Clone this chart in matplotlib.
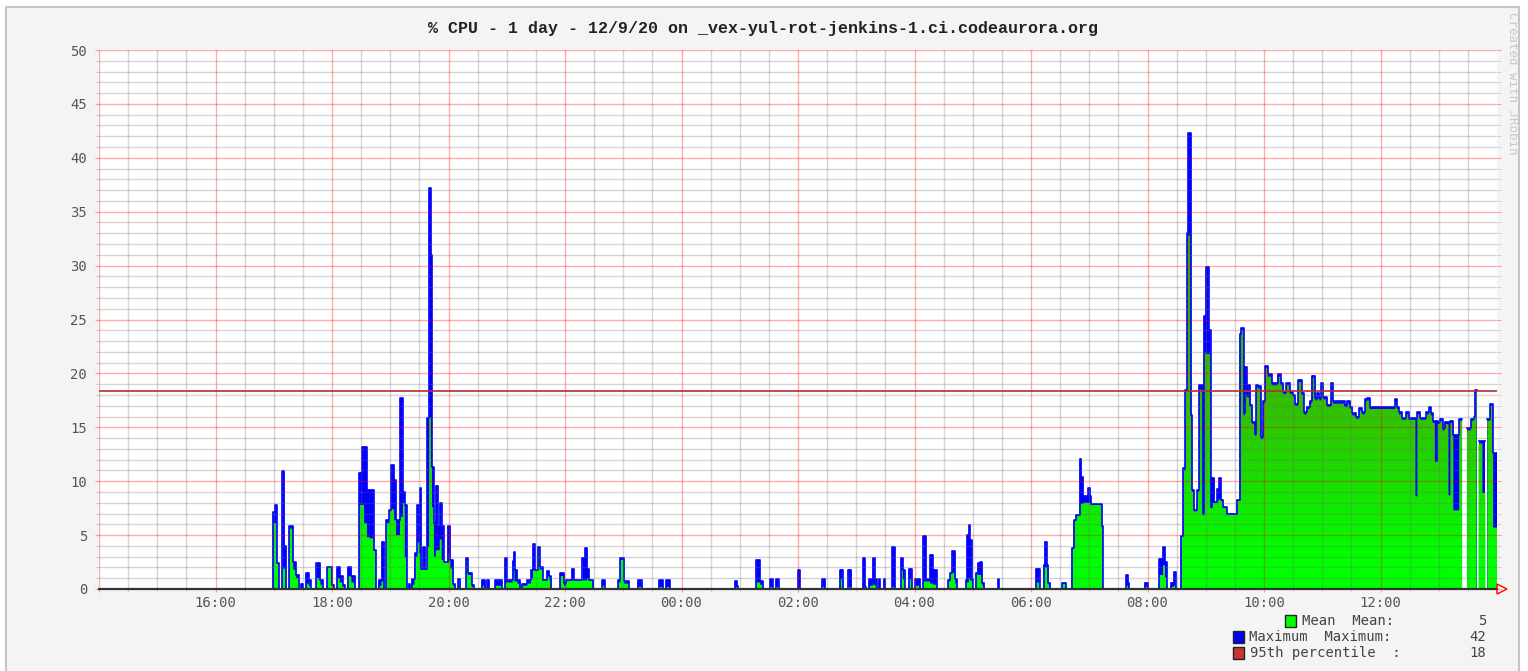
import numpy as np
import matplotlib
matplotlib.use("Agg")
import matplotlib.pyplot as plt
from matplotlib.colors import LinearSegmentedColormap
from matplotlib.patches import Rectangle, Polygon
from matplotlib.path import Path

plt.rcParams['font.family'] = ['DejaVu Sans Mono']

nan = float('nan')

# each value holds from its start time until the next start; graph spans 14:00 -> 14:00 next day
seg_start = [
    "14:00", "16:59", "17:01", "17:03", "17:05", "17:09", "17:11", "17:13", "17:16", "17:20",
    "17:23", "17:26", "17:28", "17:30", "17:33", "17:36", "17:38", "17:44", "17:48", "17:51",
    "17:55", "18:00", "18:02", "18:05", "18:08", "18:11", "18:13", "18:16", "18:20", "18:24",
    "18:28", "18:31", "18:33", "18:36", "18:39", "18:43", "18:45", "18:48", "18:51", "18:54",
    "18:56", "18:59", "19:01", "19:04", "19:06", "19:10", "19:13", "19:15", "19:17", "19:19",
    "19:20", "19:22", "19:25", "19:28", "19:30", "19:31", "19:32", "19:34", "19:36", "19:38",
    "19:40", "19:42", "19:43", "19:45", "19:47", "19:49", "19:51", "19:53", "19:55", "19:59",
    "20:02", "20:05", "20:07", "20:10", "20:12", "20:18", "20:20", "20:24", "20:26", "20:34",
    "20:38", "20:40", "20:42", "20:48", "20:55", "20:58", "21:00", "21:06", "21:07", "21:08",
    "21:11", "21:14", "21:16", "21:21", "21:25", "21:27", "21:29", "21:32", "21:34", "21:37",
    "21:41", "21:44", "21:46", "21:55", "21:59", "22:01", "22:07", "22:09", "22:18", "22:21",
    "22:23", "22:25", "22:29", "22:38", "22:41", "22:55", "22:57", "23:01", "23:06", "23:15",
    "23:19", "23:37", "23:41", "23:44", "23:48", "00:55", "00:57", "00:58", "01:17", "01:21",
    "01:24", "01:31", "01:34", "01:37", "01:40", "02:00", "02:02", "02:25", "02:28", "02:43",
    "02:46", "02:52", "02:55", "03:07", "03:09", "03:10", "03:13", "03:17", "03:19", "03:21",
    "03:23", "03:24", "03:29", "03:30", "03:37", "03:40", "03:46", "03:48", "03:50", "03:54",
    "03:57", "04:01", "04:06", "04:09", "04:12", "04:16", "04:19", "04:23", "04:35", "04:37",
    "04:39", "04:42", "04:44", "04:53", "04:54", "04:56", "04:57", "04:59", "05:00", "05:03",
    "05:05", "05:07", "05:10", "05:12", "05:26", "05:27", "06:05", "06:09", "06:13", "06:14",
    "06:16", "06:18", "06:20", "06:32", "06:36", "06:42", "06:44", "06:46", "06:50", "06:52",
    "06:54", "06:59", "07:01", "07:02", "07:13", "07:14", "07:38", "07:40", "07:41", "07:57",
    "08:00", "08:12", "08:16", "08:18", "08:20", "08:24", "08:27", "08:29", "08:35", "08:37",
    "08:39", "08:41", "08:42", "08:45", "08:46", "08:48", "08:51", "08:53", "08:57", "08:58",
    "09:00", "09:03", "09:05", "09:06", "09:09", "09:12", "09:14", "09:16", "09:18", "09:22",
    "09:32", "09:35", "09:36", "09:39", "09:40", "09:42", "09:44", "09:46", "09:48", "09:51",
    "09:52", "09:54", "09:57", "09:59", "10:01", "10:04", "10:08", "10:14", "10:17", "10:20",
    "10:23", "10:27", "10:30", "10:32", "10:35", "10:39", "10:41", "10:44", "10:47", "10:49",
    "10:53", "10:55", "10:57", "10:59", "11:01", "11:05", "11:09", "11:11", "11:23", "11:26",
    "11:29", "11:31", "11:35", "11:38", "11:41", "11:44", "11:46", "11:49", "12:15", "12:17",
    "12:19", "12:22", "12:26", "12:29", "12:36", "12:38", "12:41", "12:47", "12:50", "12:52",
    "12:54", "12:56", "12:59", "13:01", "13:04", "13:06", "13:10", "13:12", "13:15", "13:21",
    "13:24", "13:29", "13:33", "13:36", "13:37", "13:39", "13:41", "13:45", "13:48", "13:50",
    "13:53", "13:56",
]

seg_max = [
    0, 7.1, 7.8, 2.4, 0, 10.9, 4.0, 0, 5.8, 2.5,
    1.3, 0, 0.5, 0, 1.5, 0.8, 0, 2.4, 0.8, 0,
    2.0, 0.4, 0, 2.0, 1.2, 0.4, 0, 2.0, 1.2, 0,
    10.8, 13.2, 13.2, 9.2, 9.2, 3.6, 0, 0.8, 4.4, 0,
    6.4, 7.3, 11.5, 10.1, 6.4, 17.7, 9.0, 7.8, 0, 0.5,
    0, 0.9, 3.3, 7.8, 4.4, 9.4, 1.9, 3.9, 1.9, 15.9,
    37.2, 31.0, 11.3, 6.1, 9.6, 5.8, 8.0, 5.8, 2.5, 5.8,
    2.7, 0.5, 0, 0.9, 0, 2.9, 1.5, 0.4, 0, 0.8,
    0, 0.8, 0, 0.8, 0, 2.9, 0.8, 2.6, 3.4, 1.8,
    0.8, 0, 0.5, 0.8, 1.8, 4.2, 1.8, 3.9, 2.0, 0.8,
    1.7, 1.2, 0, 1.5, 0.6, 0.8, 1.9, 0.8, 2.9, 3.8,
    1.9, 0.8, 0, 0.8, 0, 0.8, 2.9, 0.7, 0, 0.8,
    0, 0.8, 0, 0.8, 0, 0.7, 0.3, 0, 2.7, 0.7,
    0, 0.9, 0, 0.9, 0, 1.8, 0, 0.9, 0, 1.8,
    0, 1.8, 0, 2.9, 0.2, 0, 0.9, 2.9, 0.9, 0,
    0.9, 0, 0.9, 0, 3.9, 0, 2.9, 1.8, 0, 1.9,
    0, 0.9, 0, 4.9, 0.9, 3.2, 1.8, 0, 0.8, 1.5,
    3.5, 0.9, 0, 0.8, 5.0, 5.9, 4.5, 0.9, 0, 1.5,
    2.4, 2.5, 0.6, 0, 0.9, 0, 1.9, 0, 2.2, 4.4,
    2.2, 0.6, 0, 0.6, 0, 3.8, 6.4, 6.9, 12.1, 10.4,
    8.6, 9.4, 8.6, 7.9, 5.8, 0, 1.3, 0.6, 0, 0.6,
    0, 2.8, 3.9, 2.5, 0, 0.6, 1.6, 0, 4.9, 11.2,
    18.5, 33.0, 42.3, 16.1, 9.2, 7.3, 9.2, 18.9, 7.0, 25.3,
    29.9, 24.0, 7.6, 10.3, 8.1, 9.3, 10.3, 8.3, 7.6, 7.0,
    8.3, 23.7, 24.2, 16.3, 20.6, 18.0, 18.9, 17.1, 15.5, 14.4,
    18.9, 18.8, 14.1, 17.4, 20.7, 19.9, 19.1, 19.9, 19.1, 18.3,
    19.1, 18.3, 18.0, 17.2, 19.4, 18.2, 16.4, 16.9, 17.4, 19.8,
    17.7, 18.2, 17.7, 19.1, 17.8, 17.1, 19.1, 17.4, 17.1, 17.4,
    16.9, 16.3, 16.0, 16.8, 16.4, 17.6, 17.7, 16.9, 17.6, 16.9,
    16.4, 15.9, 16.4, 15.9, 15.9, 16.4, 15.9, 16.4, 16.9, 16.3,
    15.6, 15.6, 15.5, 15.8, 14.9, 15.5, 15.5, 15.6, 14.3, 15.8,
    nan, 14.9, 15.8, 16.0, 18.5, nan, 13.7, 13.7, nan, 15.8,
    17.2, 12.6,
]

seg_mean = [
    0, 6.1, 6.1, 2.4, 0, 1.9, 1.9, 0, 5.6, 1.8,
    1.0, 0, 0.2, 0, 0.5, 0.3, 0, 1.0, 0.4, 0,
    2.0, 0.4, 0, 1.0, 0.6, 0.2, 0, 1.2, 0.6, 0,
    7.8, 7.8, 6.1, 4.8, 4.7, 3.6, 0, 0.3, 0.7, 0,
    6.1, 7.2, 7.4, 6.4, 5.0, 6.7, 8.0, 2.9, 0, 0.2,
    0, 0.4, 3.0, 4.4, 3.3, 3.3, 1.8, 1.8, 1.8, 3.9,
    15.9, 11.3, 7.6, 3.0, 3.6, 3.6, 4.6, 2.7, 2.5, 3.3,
    1.9, 0.3, 0, 0.9, 0, 2.7, 1.3, 0.2, 0, 0.3,
    0, 0.3, 0, 0.3, 0, 0.6, 0.6, 1.8, 1.8, 0.7,
    0.5, 0, 0.3, 0.5, 1.0, 1.8, 1.8, 3.9, 1.8, 0.8,
    1.2, 0.8, 0, 1.2, 0.3, 0.8, 0.8, 0.8, 0.8, 0.8,
    1.0, 0.8, 0, 0.3, 0, 0.6, 2.7, 0.5, 0, 0.2,
    0, 0.2, 0, 0.2, 0, 0.2, 0.1, 0, 0.6, 0.4,
    0, 0.2, 0, 0.2, 0, 0.2, 0, 0.2, 0, 0.9,
    0, 0.2, 0, 0.2, 0.1, 0, 0.3, 0.4, 0.3, 0,
    0.2, 0, 0.2, 0, 0.2, 0, 1.8, 0.9, 0, 0.9,
    0, 0.3, 0, 0.7, 0.7, 0.5, 0.4, 0, 0.7, 1.5,
    1.5, 0.5, 0, 0.6, 0.6, 1.0, 0.8, 0.5, 0, 1.5,
    1.3, 1.3, 0.3, 0, 0.2, 0, 0.6, 0, 2.0, 2.0,
    2.0, 0.4, 0, 0.5, 0, 3.8, 6.3, 6.8, 7.9, 7.9,
    8.0, 8.0, 7.9, 7.8, 5.7, 0, 0.3, 0.2, 0, 0.2,
    0, 1.3, 2.2, 1.1, 0, 0.2, 0.3, 0, 4.9, 11.0,
    18.3, 32.8, 32.8, 15.5, 9.0, 7.2, 9.0, 18.5, 6.9, 21.9,
    21.8, 21.8, 7.5, 8.0, 8.0, 8.2, 8.4, 8.2, 7.5, 6.9,
    8.2, 23.5, 24.0, 16.1, 18.5, 17.8, 17.8, 16.9, 15.3, 14.2,
    18.7, 18.6, 13.9, 17.2, 20.5, 19.7, 18.9, 19.7, 18.9, 18.1,
    18.9, 18.1, 17.8, 17.0, 19.2, 18.0, 16.2, 16.7, 17.2, 19.6,
    17.5, 18.0, 17.5, 18.9, 17.6, 16.9, 18.9, 17.2, 16.9, 17.2,
    16.7, 16.1, 15.8, 16.6, 16.2, 17.4, 17.5, 16.7, 17.4, 16.7,
    16.2, 15.7, 16.2, 15.7, 8.6, 16.2, 15.7, 16.2, 16.7, 16.1,
    15.4, 11.8, 15.3, 15.6, 14.7, 15.3, 8.7, 15.4, 7.3, 15.6,
    nan, 14.7, 15.6, 15.8, 18.3, nan, 13.5, 8.9, nan, 15.6,
    17.0, 5.7,
]

p95 = 18.37
legend_labels = ["Mean  Mean:", "Maximum  Maximum:", "95th percentile  :"]
legend_values = ["5", "42", "18"]
legend_colors = ["#00ff00", "#0000ff", "#cc3333"]
hour_ticks = list(range(14, 37, 2))
hour_labels = ["" if h == 14 else "%02d:00" % (h % 24) for h in hour_ticks]
title = "% CPU - 1 day - 12/9/20 on _vex-yul-rot-jenkins-1.ci.codeaurora.org"


def to_hours(s):
    h, m = s.split(":")
    v = int(h) + int(m) / 60.0
    return v + 24 if v < 14 else v


W, H = 1528, 671
fig = plt.figure(figsize=(W / 100, H / 100), dpi=100, facecolor="white")
fig.add_artist(Rectangle((6 / W, -0.02), 1513 / W, 1 - 7 / H + 0.02, transform=fig.transFigure,
                         facecolor="#f4f4f4", edgecolor="#c6c6c6", lw=1.5, zorder=-10))

ax = fig.add_axes([99 / W, 82 / H, 1398 / W, 539 / H])
ax.set_facecolor("white")

edges = [to_hours(s) for s in seg_start] + [38.0]
xs = np.repeat(edges, 2)[1:-1]
ymax = np.repeat(np.array(seg_max, float), 2)
ymean = np.repeat(np.array(seg_mean, float), 2)

# maximum area in blue, mean area on top with a green gradient
ax.fill_between(xs, 0, ymax, facecolor="#0000ff", lw=0, zorder=1)
coll = ax.fill_between(xs, 0, ymean, facecolor="none", edgecolor="none", lw=0)
clip = Path.make_compound_path(*coll.get_paths())
cmap = LinearSegmentedColormap.from_list("g", [
    (0.0, (0.0, 1.0, 0.0)), (3 / 50, (0.0, 1.0, 0.0)),
    (17 / 50, (0.2, 0.75, 0.0)), (35 / 50, (0.24, 0.62, 0.0)), (1.0, (0.24, 0.62, 0.0))])
grad = np.linspace(0, 50, 500).reshape(-1, 1)
im = ax.imshow(grad, extent=(14, 38, 0, 50), origin="lower", aspect="auto",
               cmap=cmap, vmin=0, vmax=50, zorder=1.2)
im.set_clip_path(clip, transform=ax.transData)
ax.plot(xs, ymax, color="#0000ff", lw=1.2, zorder=1.5)

ax.axhline(p95, color="#b03030", lw=1.2, zorder=3)

ax.set_xlim(14, 38)
ax.set_ylim(0, 50)
ax.set_xticks(hour_ticks)
ax.set_xticklabels(hour_labels)
ax.set_xticks([h / 2 for h in range(28, 77) if h % 4 != 0], minor=True)
ax.set_yticks(range(0, 51, 5))
ax.set_yticks([v for v in range(0, 51) if v % 5 != 0], minor=True)

ax.set_axisbelow(False)
ax.grid(which="major", color=(1, 0, 0), alpha=0.33, lw=1.0)
ax.grid(which="minor", color=(0.42, 0.42, 0.42), alpha=0.28, lw=1.0)

ax.tick_params(which="both", labelsize=10, labelcolor="#555555", right=True)
ax.tick_params(axis="y", which="major", length=3, color=(1, 0.6, 0.6), pad=5.5)
ax.tick_params(axis="y", which="minor", length=3, color="#c8c8c8")
ax.tick_params(axis="x", which="major", length=2, color=(1, 0.6, 0.6), pad=3)
ax.tick_params(axis="x", which="minor", length=2, color="#c8c8c8")

for side in ["top", "left", "right"]:
    ax.spines[side].set_visible(False)
ax.spines["bottom"].set_color("#333333")
ax.spines["bottom"].set_linewidth(1.6)
ax.spines["bottom"].set_zorder(5)

# arrow at the end of the x axis
fig.add_artist(Polygon([(1497 / W, 1 - 584 / H), (1497 / W, 1 - 594 / H), (1507 / W, 1 - 589 / H)],
                       closed=True, fill=False, edgecolor="red", lw=1.0, transform=fig.transFigure))

fig.text(763 / W, 1 - 29 / H, title, ha="center", va="center", fontsize=12,
         fontweight="bold", family="Liberation Mono", color="#222222")
fig.text(1512.5 / W, 1 - 12 / H, "Created with JRobin", rotation=270, ha="center", va="top",
         fontsize=9, color="#c8c8c8")

# legend
rows_y = [621, 637, 653]
box_x = [1285, 1233, 1233]
text_x = [1301.7, 1249.3, 1250]
for lab, val, col, y, bx, tx in zip(legend_labels, legend_values, legend_colors, rows_y, box_x, text_x):
    fig.add_artist(Rectangle((bx / W, 1 - (y + 6) / H), 11 / W, 12 / H, transform=fig.transFigure,
                             facecolor=col, edgecolor="#222222", lw=1.0))
    fig.text(tx / W, 1 - y / H, lab, ha="left", va="center", fontsize=10, color="#444444")
    fig.text(1486 / W, 1 - y / H, val, ha="right", va="center", fontsize=10, color="#444444")

fig.savefig("out.png", dpi=100, facecolor=fig.get_facecolor())
